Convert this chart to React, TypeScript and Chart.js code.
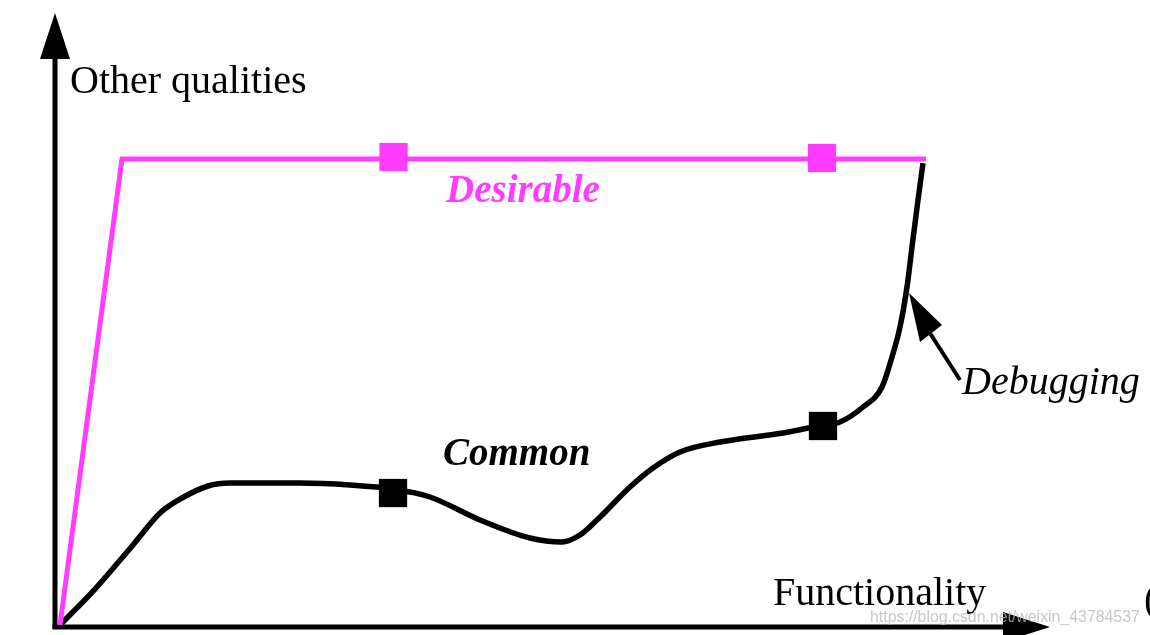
import React, { useEffect, useRef } from "react";
import { Chart, registerables } from "chart.js";

Chart.register(...registerables);

// Functionality (x) vs Other qualities (y), arbitrary 0..100 units
const commonX = [0.5, 4.0, 7.8, 10.5, 12.7, 15.3, 17.5, 24.5, 29.5, 33.8, 37.5, 42.5, 47.5, 50.7, 52.5, 54.2, 57.5, 59.8, 62.5, 66.5, 72.8, 76.8, 78.5, 80.8, 82.7, 83.7, 84.5, 85.2, 85.7, 86.3, 86.8];
const commonY = [0.33, 6.33, 13.67, 19.0, 21.5, 23.5, 24.0, 24.0, 23.67, 23.0, 21.67, 17.83, 14.83, 14.17, 15.33, 17.83, 23.33, 26.5, 29.17, 30.83, 32.33, 33.67, 34.17, 36.67, 40.0, 45.0, 50.0, 56.67, 63.33, 71.17, 77.33];
const commonMarkX = [33.8, 76.8];
const commonMarkY = [22.33, 33.5];

const desirableX = [0.5, 6.7, 87.1];
const desirableY = [0.33, 78.0, 78.0];
const desirableMarkX = [33.85, 76.7];
const desirableMarkY = [78.33, 78.17];

const axisTitleY = "Other qualities";
const axisTitleX = "Functionality";
const labelDesirable = "Desirable";
const labelCommon = "Common";
const labelDebugging = "Debugging";
const watermark = "https://blog.csdn.net/weixin_43784537";

const PINK = "#ff3cff";
const BLACK = "#000000";

const zip = (xs: number[], ys: number[]) => xs.map((x, i) => ({ x, y: ys[i] }));

const decorPlugin = {
  id: "decor",
  beforeDatasetsDraw(chart: any) {
    const ctx = chart.ctx as CanvasRenderingContext2D;
    const xs = chart.scales.x;
    const ys = chart.scales.y;
    const ox = xs.getPixelForValue(0);
    const oy = ys.getPixelForValue(0);
    ctx.save();
    ctx.fillStyle = BLACK;
    ctx.strokeStyle = BLACK;
    ctx.lineWidth = 5;
    // y axis
    ctx.beginPath();
    ctx.moveTo(ox, oy + 2);
    ctx.lineTo(ox, 58);
    ctx.stroke();
    ctx.beginPath();
    ctx.moveTo(ox, 13);
    ctx.lineTo(ox - 15, 59);
    ctx.lineTo(ox + 15, 59);
    ctx.closePath();
    ctx.fill();
    // x axis
    ctx.beginPath();
    ctx.moveTo(ox - 2.5, oy);
    ctx.lineTo(1005, oy);
    ctx.stroke();
    ctx.beginPath();
    ctx.moveTo(1050, oy);
    ctx.lineTo(1003, oy - 15);
    ctx.lineTo(1003, oy + 15);
    ctx.closePath();
    ctx.fill();
    ctx.restore();
  },
  afterDraw(chart: any) {
    const ctx = chart.ctx as CanvasRenderingContext2D;
    ctx.save();
    ctx.textBaseline = "alphabetic";
    ctx.textAlign = "left";
    ctx.fillStyle = BLACK;
    ctx.font = '40px "Liberation Serif"';
    ctx.fillText(axisTitleY, 70, 93);
    ctx.fillText(axisTitleX, 773, 605);

    ctx.fillStyle = PINK;
    ctx.font = 'italic bold 39px "Liberation Serif"';
    ctx.fillText(labelDesirable, 446, 202);
    ctx.fillStyle = BLACK;
    ctx.fillText(labelCommon, 443, 465);

    ctx.font = 'italic 40px "Liberation Serif"';
    ctx.fillText(labelDebugging, 962, 394);

    // Debugging arrow
    ctx.strokeStyle = BLACK;
    ctx.lineWidth = 4;
    ctx.beginPath();
    ctx.moveTo(960, 380);
    ctx.lineTo(928, 330);
    ctx.stroke();
    ctx.beginPath();
    ctx.moveTo(909, 293);
    ctx.lineTo(920, 342);
    ctx.lineTo(942, 325);
    ctx.closePath();
    ctx.fill();

    // watermark
    ctx.fillStyle = "rgba(185,185,185,0.8)";
    let size = 17;
    ctx.font = `${size}px "Liberation Sans"`;
    const w = ctx.measureText(watermark).width;
    size = (size * 270) / w;
    ctx.font = `${size}px "Liberation Sans"`;
    ctx.fillText(watermark, 870, 622);

    // clipped glyph at right edge
    ctx.fillStyle = BLACK;
    ctx.font = '40px "Liberation Serif"';
    ctx.fillText("(", 1144, 612);
    ctx.restore();
  },
};

export default function App() {
  const ref = useRef<HTMLCanvasElement | null>(null);
  useEffect(() => {
    if (!ref.current) return;
    const chart = new Chart(ref.current, {
      type: "scatter",
      data: {
        datasets: [
          {
            label: "Desirable",
            data: zip(desirableX, desirableY),
            showLine: true,
            borderColor: PINK,
            borderWidth: 5,
            pointRadius: 0,
            tension: 0,
          } as any,
          {
            label: "Common",
            data: zip(commonX, commonY),
            showLine: true,
            borderColor: BLACK,
            borderWidth: 5.5,
            pointRadius: 0,
            cubicInterpolationMode: "monotone",
          } as any,
          {
            label: "Desirable markers",
            data: zip(desirableMarkX, desirableMarkY),
            showLine: false,
            pointStyle: "rect",
            pointRadius: 20,
            backgroundColor: PINK,
            borderColor: PINK,
            borderWidth: 0,
          } as any,
          {
            label: "Common markers",
            data: zip(commonMarkX, commonMarkY),
            showLine: false,
            pointStyle: "rect",
            pointRadius: 20,
            backgroundColor: BLACK,
            borderColor: BLACK,
            borderWidth: 0,
          } as any,
        ],
      },
      options: {
        animation: false,
        responsive: false,
        maintainAspectRatio: false,
        devicePixelRatio: 1,
        clip: false as any,
        layout: { autoPadding: false, padding: { left: 55, right: 95, top: 27, bottom: 8 } },
        plugins: { legend: { display: false }, tooltip: { enabled: false } },
        events: [],
        scales: {
          x: { type: "linear", min: 0, max: 100, display: false },
          y: { type: "linear", min: 0, max: 100, display: false },
        },
      },
      plugins: [decorPlugin],
    });
    return () => chart.destroy();
  }, []);
  return (
    <div style={{ position: "fixed", left: 0, top: 0, width: 1150, height: 635, background: "#fff" }}>
      <canvas ref={ref} width={1150} height={635} style={{ display: "block", width: 1150, height: 635 }} />
    </div>
  );
}
